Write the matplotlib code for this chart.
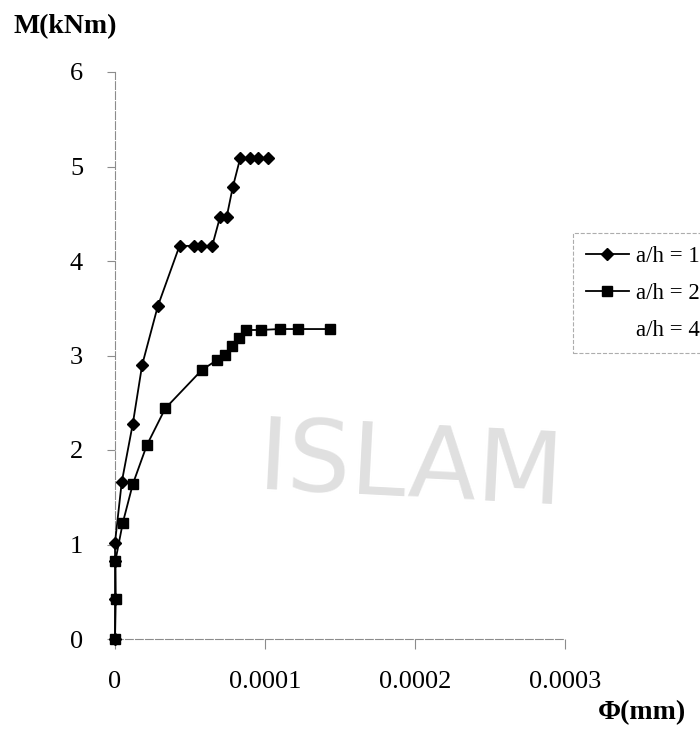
import matplotlib
matplotlib.use('Agg')
import matplotlib.pyplot as plt

# a/h = 1 (diamonds)
ah1_phi = [0.0, 0.0005e-4, 0.0005e-4, 0.0, 0.045e-4, 0.119e-4, 0.181e-4, 0.285e-4,
           0.43e-4, 0.525e-4, 0.57e-4, 0.648e-4, 0.701e-4, 0.745e-4, 0.785e-4,
           0.835e-4, 0.897e-4, 0.952e-4, 1.019e-4]
ah1_m = [0.0, 0.42, 0.83, 1.02, 1.66, 2.28, 2.90, 3.52,
         4.16, 4.16, 4.16, 4.16, 4.47, 4.47, 4.78,
         5.09, 5.09, 5.09, 5.09]

# a/h = 2 (squares)
ah2_phi = [0.0, 0.005e-4, 0.003e-4, 0.052e-4, 0.119e-4, 0.212e-4, 0.335e-4, 0.581e-4,
           0.679e-4, 0.735e-4, 0.781e-4, 0.826e-4, 0.874e-4, 0.97e-4, 1.097e-4,
           1.219e-4, 1.43e-4]
ah2_m = [0.0, 0.42, 0.83, 1.23, 1.64, 2.05, 2.44, 2.85,
         2.95, 3.01, 3.10, 3.18, 3.27, 3.27, 3.28,
         3.28, 3.28]

# a/h = 4 (no points shown in the chart)
ah4_phi = []
ah4_m = []

x_ticks = [0, 0.0001, 0.0002, 0.0003]
x_tick_labels = ['0', '0.0001', '0.0002', '0.0003']
y_ticks = [0, 1, 2, 3, 4, 5, 6]

plt.rcParams['font.family'] = ['Liberation Serif', 'DejaVu Serif']

fig = plt.figure(figsize=(7, 7.3), dpi=100)

# faint watermark behind the chart
fig.text(410/700, 1-470/730, 'ISLAM', fontsize=72, color='#e0e0e0',
         family='DejaVu Sans', ha='center', va='center', rotation=-3, zorder=0)

ax = fig.add_axes([115/700, 91/730, 450/700, 567/730])
ax.patch.set_alpha(0)

ax.plot(ah1_phi, ah1_m, color='black', lw=1.3, marker='D', markersize=6.5,
        label='a/h = 1', clip_on=False, zorder=3)
ax.plot(ah2_phi, ah2_m, color='black', lw=1.3, marker='s', markersize=6.5,
        label='a/h = 2', clip_on=False, zorder=3)
ax.plot(ah4_phi, ah4_m, linestyle='none', label='a/h = 4')

ax.set_xlim(0, 0.0003)
ax.set_ylim(0, 6)
ax.set_xticks(x_ticks)
ax.set_xticklabels(x_tick_labels)
ax.set_yticks(y_ticks)

for s in ['top', 'right']:
    ax.spines[s].set_visible(False)
for s in ['left', 'bottom']:
    ax.spines[s].set_color('#8c8c8c')
    ax.spines[s].set_linewidth(0.8)
    ax.spines[s].set_linestyle((0, (7, 2)))

ax.tick_params(axis='x', length=7, width=0.8, color='#8c8c8c', pad=16, labelsize=19)
ax.tick_params(axis='y', length=6, width=0.8, color='#8c8c8c', pad=17, labelsize=19)

fig.text(13/700, 1-27/730, 'M(kNm)', fontsize=20, fontweight='bold', ha='left', va='center')
fig.text(686/700, 1-713/730, '\u03a6(mm)', fontsize=20, fontweight='bold', ha='right', va='center')

leg = ax.legend(loc='upper left', bbox_to_anchor=(573/700, 1-233/730),
                bbox_transform=fig.transFigure, fontsize=16.5, frameon=True,
                fancybox=False, borderaxespad=0, handlelength=1.9,
                handletextpad=0.3, labelspacing=0.7, borderpad=0.55)
frame = leg.get_frame()
frame.set_edgecolor('#999999')
frame.set_linewidth(0.8)
frame.set_linestyle('--')

fig.savefig('out.png', dpi=100)
